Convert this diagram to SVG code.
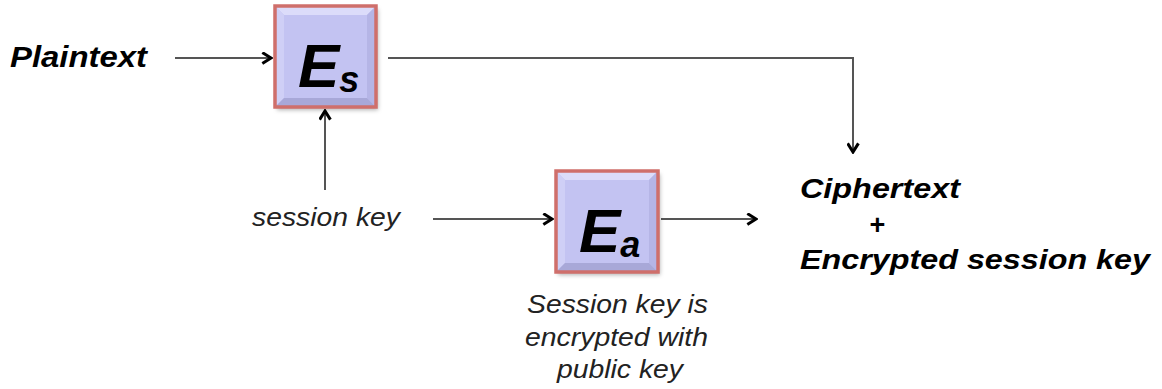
<svg xmlns="http://www.w3.org/2000/svg" width="1162" height="389" viewBox="0 0 1162 389">
<style>
.lbl{font-family:"Liberation Sans",Arial,sans-serif;font-weight:bold;font-style:italic;fill:#000}
.it{font-family:"Liberation Sans",Arial,sans-serif;font-style:italic;fill:#222}
.conn{fill:none;stroke:#555;stroke-width:2}
.face{fill:#c3c3f2}
.bt{fill:#dcdcfa}
.bl{fill:#cfcff6}
.br{fill:#b5b5e6}
.bb{fill:#a8a8d8}
.frame{fill:none;stroke:#cf6f6b;stroke-width:3.5}
</style>
<defs>
<marker id="ah" viewBox="0 0 12 12" refX="10" refY="6" markerWidth="13" markerHeight="13" markerUnits="userSpaceOnUse" orient="auto">
<path d="M2,1 L10,6 L2,11" fill="none" stroke="#000" stroke-width="2.8"/>
</marker>
<filter id="sh" x="-10%" y="-10%" width="130%" height="130%">
<feDropShadow dx="2" dy="3" stdDeviation="2" flood-color="#000" flood-opacity="0.3"/>
</filter>
</defs>
<g id="connectors">
<line class="conn" x1="175" y1="58" x2="271" y2="58" marker-end="url(#ah)"/>
<polyline class="conn" points="388,58 853,58 853,152" marker-end="url(#ah)"/>
<line class="conn" x1="325" y1="190" x2="325" y2="111" marker-end="url(#ah)"/>
<line class="conn" x1="433" y1="219" x2="552" y2="219" marker-end="url(#ah)"/>
<line class="conn" x1="661" y1="219" x2="756" y2="219" marker-end="url(#ah)"/>
</g>
<g id="node-es">
<g filter="url(#sh)">
<rect class="face" x="275" y="6" width="101" height="101"/>
</g>
<polygon class="bt" points="275,6 376,6 367,15 284,15"/>
<polygon class="bl" points="275,6 284,15 284,98 275,107"/>
<polygon class="br" points="376,6 376,107 367,98 367,15"/>
<polygon class="bb" points="275,107 284,98 367,98 376,107"/>
<rect class="frame" x="275" y="6" width="101" height="101"/>
<text class="lbl" x="298" y="87" font-size="62">E<tspan font-size="36" dy="5">s</tspan></text>
</g>
<g id="node-ea">
<g filter="url(#sh)">
<rect class="face" x="556" y="171" width="102" height="101"/>
</g>
<polygon class="bt" points="556,171 658,171 649,180 565,180"/>
<polygon class="bl" points="556,171 565,180 565,263 556,272"/>
<polygon class="br" points="658,171 658,272 649,263 649,180"/>
<polygon class="bb" points="556,272 565,263 649,263 658,272"/>
<rect class="frame" x="556" y="171" width="102" height="101"/>
<text class="lbl" x="579" y="252" font-size="62">E<tspan font-size="36" dy="5">a</tspan></text>
</g>
<g id="plaintext">
<text class="lbl" x="10" y="67" font-size="30" textLength="137" lengthAdjust="spacingAndGlyphs">Plaintext</text>
</g>
<g id="session-key">
<text class="it" x="252" y="226" font-size="25" textLength="148" lengthAdjust="spacingAndGlyphs">session key</text>
</g>
<g id="output">
<text class="lbl" x="800" y="198" font-size="27" textLength="160" lengthAdjust="spacingAndGlyphs">Ciphertext</text>
<text class="lbl" x="877" y="234" font-size="27" text-anchor="middle">+</text>
<text class="lbl" x="800" y="269" font-size="27" textLength="350" lengthAdjust="spacingAndGlyphs">Encrypted session key</text>
</g>
<g id="note">
<text class="it" x="527" y="313" font-size="25.5" textLength="181" lengthAdjust="spacingAndGlyphs">Session key is</text>
<text class="it" x="525" y="346" font-size="25.5" textLength="183" lengthAdjust="spacingAndGlyphs">encrypted with</text>
<text class="it" x="557" y="378" font-size="25.5" textLength="126" lengthAdjust="spacingAndGlyphs">public key</text>
</g>
</svg>
